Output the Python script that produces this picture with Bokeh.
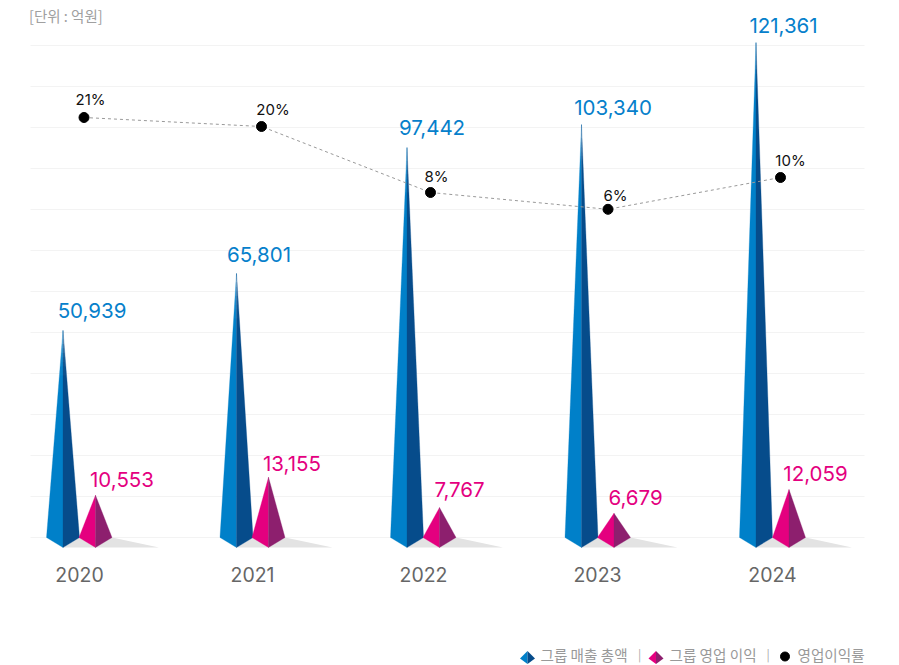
from bokeh.plotting import figure
from bokeh.models import Range1d
from bokeh.core.properties import value
from bokeh.embed import file_html
from bokeh.resources import INLINE

# ---- data ----
years = ["2020", "2021", "2022", "2023", "2024"]
sales = [50939, 65801, 97442, 103340, 121361]
profit = [10553, 13155, 7767, 6679, 12059]
sales_drawn = [50500, 64400, 95100, 100700, 120700]
profit_drawn = [10300, 14700, 7300, 5900, 11700]
rate_labels = ["21%", "20%", "8%", "6%", "10%"]
rate_drawn = [20.5, 19.0, 8.0, 5.2, 10.5]
grid_values = list(range(0, 130000, 10000))

sales_labels = [f"{v:,}" for v in sales]
profit_labels = [f"{v:,}" for v in profit]

# ---- layout (page pixels) ----
W, H = 899, 665
BASE_PX = 537
PX_PER_UNIT = 41 / 10000
blue_x = [62.5, 236, 406.5, 581, 755.5]
pink_x = [95, 268, 439, 613.5, 788.5]
year_x = [79, 252, 423, 597, 772]
dot_x = [83.5, 261, 430, 607.5, 780]
sales_lx = [91.5, 258.5, 431.5, 612.5, 783]
profit_lx = [121.5, 291.5, 459, 635, 815]
dot_lx = [90, 272.5, 436, 615, 790]
sales_ly = [310, 254, 127, 107, 25]
profit_ly = [479, 463, 489, 497, 473]
dot_ly = [99, 109, 176, 195, 160]
HALF = 16.5
DROP = 10


def ypx(px):
    """page pixel row -> value on the sales axis"""
    return (BASE_PX - px) / PX_PER_UNIT


def ypxs(rows):
    return [ypx(r) for r in rows]


DROP_V = DROP / PX_PER_UNIT

p = figure(width=W, height=H, output_backend="svg", toolbar_location=None,
           x_range=Range1d(0, W), y_range=Range1d(ypx(H), ypx(0)),
           min_border=0, outline_line_color=None, background_fill_color="white")
p.axis.visible = False
p.xgrid.visible = False
p.ygrid.visible = False
p.extra_y_ranges["rate"] = Range1d((192 - H) / 6 + 8, 192 / 6 + 8)

# gridlines
p.segment(x0=[30] * len(grid_values), x1=[864] * len(grid_values),
          y0=grid_values, y1=grid_values, line_color="#f3f3f3", line_width=1)


def pyramid(cx, v, left, right):
    p.patch([cx - HALF, cx, cx], [0, v, -DROP_V], fill_color=left, line_color=left, line_width=0.3)
    p.patch([cx, cx + HALF, cx], [v, 0, -DROP_V], fill_color=right, line_color=right, line_width=0.3)


# floor shadows
for bx, px_ in zip(blue_x, pink_x):
    p.patch([bx, bx + HALF, px_ + HALF, bx + 96], [-DROP_V, 0, 0, -DROP_V],
            fill_color="#e3e3e3", line_color=None)

for x, v in zip(blue_x, sales_drawn):
    pyramid(x, v, "#0080c9", "#064c8b")
    # fade of the upper tip
    n = 10
    span = 45 / PX_PER_UNIT / v
    for k in range(n):
        f0 = 1 - span + span * k / n
        f1 = 1 - span + span * (k + 1) / n
        a = 0.03 + 0.6 * (k / n) ** 2
        h0, h1 = HALF * (1 - f0), HALF * (1 - f1)
        p.patch([x - h0, x + h0, x + h1, x - h1], [v * f0, v * f0, v * f1, v * f1],
                fill_color="white", fill_alpha=a, line_color=None)
for x, v in zip(pink_x, profit_drawn):
    pyramid(x, v, "#e4007f", "#8d1f6e")

# rate line
p.line(dot_x, rate_drawn, y_range_name="rate", line_color="#999999", line_width=1, line_dash="3 3")
p.scatter(dot_x, rate_drawn, y_range_name="rate", size=10, marker="circle",
          fill_color="black", line_color="black")

FONT = value("Inter")
KR = value("Noto Sans CJK KR")
p.text(sales_lx, ypxs(sales_ly), text=sales_labels, text_font=FONT, text_font_size="20.5px",
       text_color="#0680cb", text_align="center", text_baseline="alphabetic")
p.text(profit_lx, ypxs(profit_ly), text=profit_labels, text_font=FONT, text_font_size="20.5px",
       text_color="#e4007f", text_align="center", text_baseline="alphabetic")
p.text(dot_lx, ypxs(dot_ly), text=rate_labels, text_font=FONT,
       text_font_size="15px", text_color="#111111", text_align="center", text_baseline="alphabetic")
p.text(year_x, ypxs([574] * 5), text=years, text_font=FONT, text_font_size="19.5px",
       text_color="#666666", text_align="center", text_baseline="alphabetic")

# unit
p.text([28.5], [ypx(15)], text=["[단위 : 억원]"], text_font=KR, text_font_size="14.5px",
       text_color="#a0a0a0", text_align="left", text_baseline="alphabetic")

# legend
up = 7.5 / PX_PER_UNIT
down = 5.5 / PX_PER_UNIT
ly = ypx(658)
for cx, l, r in [(527, "#0080c9", "#064c8b"), (655.5, "#e4007f", "#8d1f6e")]:
    p.patch([cx - 7.5, cx, cx], [ly, ly + up, ly - down], fill_color=l, line_color=None)
    p.patch([cx, cx + 7.5, cx], [ly + up, ly, ly - down], fill_color=r, line_color=None)
p.scatter([784.5], [ypx(656)], size=9, marker="circle", fill_color="black", line_color="black")
p.text([540, 669, 797], [ypx(654)] * 3, text=["그룹 매출 총액", "그룹 영업 이익", "영업이익률"],
       text_font=KR, text_font_size="14.6px", text_color="#999999", text_align="left",
       text_baseline="alphabetic")
p.text([639, 767.5], [ypx(653)] * 2, text=["|", "|"], text_font=KR, text_font_size="12px",
       text_color="#aaaaaa", text_align="center", text_baseline="alphabetic")

open("out.html", "w").write(file_html(p, INLINE))
